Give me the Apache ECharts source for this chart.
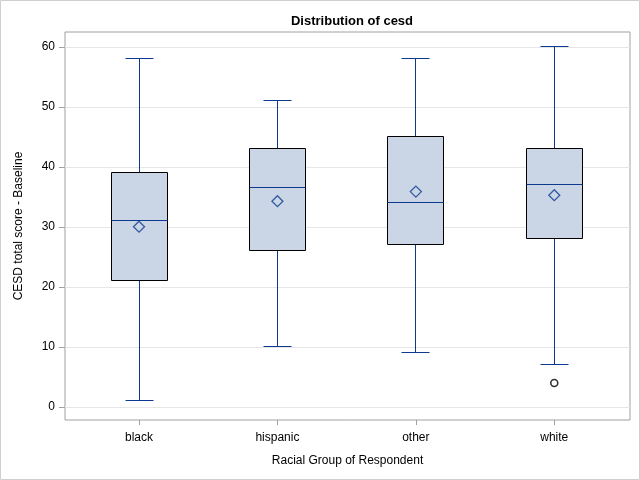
<!DOCTYPE html>
<html>
<head>
<meta charset="utf-8">
<script src="https://cdn.jsdelivr.net/npm/echarts@6/dist/echarts.min.js"></script>
<style>
html,body{margin:0;padding:0;background:#fff;}
#chart{width:640px;height:480px;}
</style>
</head>
<body>
<div id="chart"></div>
<script>
// ---- data ----
const categories = ['black', 'hispanic', 'other', 'white'];
const whiskerLow = [1, 10, 9, 7];
const q1Values = [21, 26, 27, 28];
const medianValues = [31, 36.5, 34, 37];
const q3Values = [39, 43, 45, 43];
const whiskerHigh = [58, 51, 58, 60];
const meanValues = [30.05, 34.3, 35.9, 35.3];
const outlierCategory = [3];
const outlierValues = [4];
const yTicks = [0, 10, 20, 30, 40, 50, 60];

const blue = '#0D3A8E';
const boxData = categories.map((c, i) => [i, whiskerLow[i], q1Values[i], medianValues[i], q3Values[i], whiskerHigh[i]]);
const meanData = categories.map((c, i) => [i, meanValues[i]]);
const outlierData = outlierCategory.map((c, i) => [c, outlierValues[i]]);

const chart = echarts.init(document.getElementById('chart'), null, {renderer: 'canvas'});
const font = 'Liberation Sans, Arial, sans-serif';

function crisp(v) { return Math.round(v - 0.5) + 0.5; }

function renderBox(params, api) {
  const x = api.value(0);
  const yLow = crisp(api.coord([x, api.value(1)])[1]);
  const yQ1 = crisp(api.coord([x, api.value(2)])[1]);
  const yMed = crisp(api.coord([x, api.value(3)])[1]);
  const yQ3 = crisp(api.coord([x, api.value(4)])[1]);
  const yHigh = crisp(api.coord([x, api.value(5)])[1]);
  const cx = crisp(api.coord([x, api.value(2)])[0]);
  const bw = 56, cw = 28;
  const lineStyle = {stroke: blue, lineWidth: 1};
  return {
    type: 'group',
    children: [
      {type: 'line', shape: {x1: cx, y1: yQ3, x2: cx, y2: yHigh}, style: lineStyle},
      {type: 'line', shape: {x1: cx, y1: yQ1, x2: cx, y2: yLow}, style: lineStyle},
      {type: 'line', shape: {x1: cx - cw / 2, y1: yHigh, x2: cx + cw / 2, y2: yHigh}, style: lineStyle},
      {type: 'line', shape: {x1: cx - cw / 2, y1: yLow, x2: cx + cw / 2, y2: yLow}, style: lineStyle},
      {type: 'rect', shape: {x: cx - bw / 2, y: yQ3, width: bw, height: yQ1 - yQ3},
        style: {fill: '#CAD5E5', stroke: '#000', lineWidth: 1}},
      {type: 'line', shape: {x1: cx - bw / 2, y1: yMed, x2: cx + bw / 2, y2: yMed}, style: lineStyle}
    ]
  };
}

chart.setOption({
  animation: false,
  backgroundColor: '#fff',
  title: {
    text: 'Distribution of cesd',
    left: 347, top: 10, textAlign: 'center',
    textStyle: {fontFamily: font, fontSize: 13, fontWeight: 'bold', color: '#000'}
  },
  graphic: [{
    type: 'rect', silent: true, z: 100,
    shape: {x: 0.5, y: 0.5, width: 639, height: 479},
    style: {fill: 'none', stroke: '#CFCFCF', lineWidth: 1}
  }],
  grid: {left: 65, right: 10, top: 32, bottom: 60, show: true, borderColor: '#A0A0A0', borderWidth: 1, backgroundColor: 'transparent'},
  xAxis: {
    type: 'value', min: -0.5346, max: 3.547,
    name: 'Racial Group of Respondent', nameLocation: 'middle', nameGap: 35,
    nameTextStyle: {fontFamily: font, fontSize: 12, color: '#000'},
    axisLine: {show: false, onZero: false},
    splitLine: {show: false},
    axisTick: {show: true, length: 5, lineStyle: {color: '#A0A0A0'}, customValues: [0, 1, 2, 3]},
    axisLabel: {customValues: [0, 1, 2, 3], margin: 12, fontFamily: font, fontSize: 12, color: '#000',
      formatter: v => categories[Math.round(v)]}
  },
  yAxis: {
    type: 'value', min: -2.17, max: 62.5,
    name: 'CESD total score - Baseline', nameLocation: 'middle', nameGap: 40, nameRotate: 90,
    nameTextStyle: {fontFamily: font, fontSize: 12, color: '#000'},
    axisLine: {show: false, onZero: false},
    splitLine: {show: true, lineStyle: {color: '#E6E6E6'}},
    axisTick: {show: true, length: 6, lineStyle: {color: '#A0A0A0'}, customValues: yTicks},
    axisLabel: {customValues: yTicks, margin: 10, fontFamily: font, fontSize: 12, color: '#000'}
  },
  series: [
    {type: 'custom', renderItem: renderBox, data: boxData, encode: {x: 0, y: [1, 2, 3, 4, 5]}, z: 2},
    {type: 'scatter', data: meanData, symbol: 'diamond', symbolSize: [11, 11], z: 5,
      itemStyle: {color: 'rgba(0,0,0,0)', borderColor: blue, borderWidth: 1.3}},
    {type: 'scatter', data: outlierData, symbol: 'circle', symbolSize: 7, z: 5,
      itemStyle: {color: '#fff', borderColor: '#000', borderWidth: 1.6}}
  ]
});
</script>
</body>
</html>
